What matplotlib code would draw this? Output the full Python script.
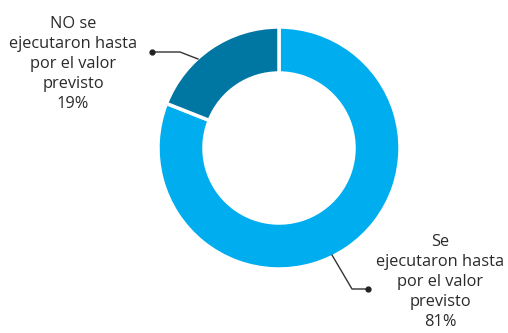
import matplotlib
matplotlib.use("Agg")
import matplotlib.pyplot as plt

categories = ["Se\nejecutaron hasta\npor el valor\nprevisto", "NO se\nejecutaron hasta\npor el valor\nprevisto"]
values = [81, 19]
pct_labels = ["81%", "19%"]
colors = ["#00AEEF", "#0076A3"]

W, H = 508, 333
fig = plt.figure(figsize=(W / 100, H / 100), dpi=100)
ax = fig.add_axes([0, 0, 1, 1])

cx, cy, R = 279, H - 148, 121
ax.pie(values, colors=colors, startangle=90, counterclock=False,
       radius=R, center=(cx, cy), frame=True,
       wedgeprops=dict(width=R * 0.38, edgecolor="white", linewidth=2.5))
ax.set_xlim(0, W)
ax.set_ylim(0, H)
ax.set_aspect("equal")
ax.axis("off")

txt_color = "#2a2a2a"
font = "Open Sans"
fs = 11.8

# Label for "Se ejecutaron" (81%)
ax.text(440, H - 282, categories[0] + "\n" + pct_labels[0], ha="center", va="center",
        fontsize=fs, family=font, color=txt_color, linespacing=1.32)
ax.plot([332, 352, 368], [H - 255, H - 289, H - 289], color="#333333", lw=1)
ax.plot([368], [H - 289], "o", color="#222222", ms=3.5)

# Label for "NO se ejecutaron" (19%)
ax.text(73, H - 64, categories[1] + "\n" + pct_labels[1], ha="center", va="center",
        fontsize=fs, family=font, color=txt_color, linespacing=1.32)
ax.plot([198, 180, 152], [H - 59, H - 52, H - 52], color="#333333", lw=1)
ax.plot([152], [H - 52], "o", color="#222222", ms=3.5)

fig.savefig("out.png", dpi=100)
